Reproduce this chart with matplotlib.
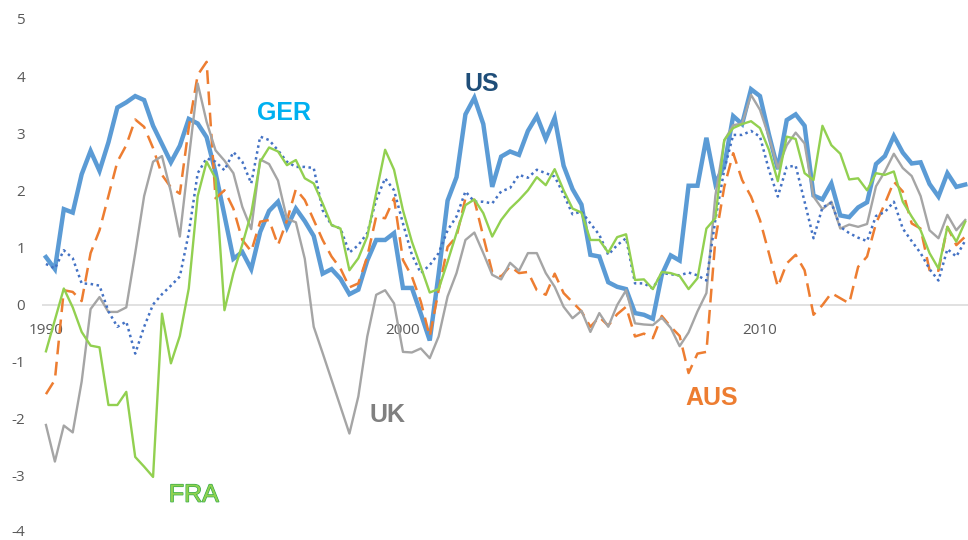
import matplotlib
matplotlib.use("Agg")
import matplotlib.pyplot as plt
import matplotlib.patheffects as pe
import numpy as np

# Quarterly data, 1990Q1 .. 2015Q4
us = [0.83, 0.62, 1.67, 1.61, 2.28, 2.69, 2.34, 2.84, 3.45, 3.54,
      3.65, 3.58, 3.13, 2.81, 2.49, 2.78, 3.25, 3.17, 2.93, 2.31,
      1.56, 0.80, 0.92, 0.62, 1.27, 1.64, 1.80, 1.35, 1.68, 1.46,
      1.20, 0.54, 0.62, 0.45, 0.18, 0.26, 0.77, 1.13, 1.13, 1.25,
      0.29, 0.29, -0.16, -0.63, 0.54, 1.82, 2.23, 3.33, 3.62, 3.16,
      2.06, 2.59, 2.68, 2.62, 3.04, 3.30, 2.90, 3.27, 2.43, 2.02,
      1.75, 0.87, 0.84, 0.39, 0.31, 0.27, -0.15, -0.18, -0.25, 0.52,
      0.86, 0.77, 2.08, 2.08, 2.92, 2.12, 2.43, 3.30, 3.16, 3.77,
      3.65, 2.98, 2.37, 3.23, 3.33, 3.13, 1.91, 1.84, 2.12, 1.56,
      1.53, 1.70, 1.79, 2.46, 2.60, 2.95, 2.66, 2.47, 2.49, 2.11,
      1.89, 2.30, 2.06, 2.10]

ger = [0.71, 0.63, 0.95, 0.81, 0.37, 0.36, 0.33, -0.12, -0.39, -0.30,
       -0.86, -0.39, 0.00, 0.18, 0.33, 0.49, 1.25, 2.30, 2.56, 2.50,
       2.35, 2.67, 2.50, 2.12, 2.94, 2.88, 2.70, 2.50, 2.41, 2.41,
       2.39, 1.65, 1.39, 1.33, 0.91, 1.04, 1.25, 1.83, 2.21, 2.00,
       1.42, 0.87, 0.55, 0.69, 0.90, 1.30, 1.54, 1.98, 1.80, 1.80,
       1.77, 1.98, 2.04, 2.27, 2.22, 2.36, 2.30, 2.24, 1.93, 1.58,
       1.63, 1.42, 1.22, 0.87, 1.04, 1.16, 0.37, 0.37, 0.28, 0.55,
       0.53, 0.51, 0.56, 0.51, 0.42, 1.48, 2.36, 2.97, 2.97, 3.04,
       2.94, 2.36, 1.89, 2.41, 2.43, 1.80, 1.16, 1.70, 1.78, 1.36,
       1.25, 1.17, 1.11, 1.55, 1.62, 1.80, 1.33, 1.11, 0.90, 0.62,
       0.42, 0.97, 0.84, 1.12]

aus = [-1.57, -1.32, 0.25, 0.22, 0.06, 0.90, 1.30, 1.90, 2.50, 2.79,
       3.24, 3.11, 2.74, 2.27, 2.05, 1.94, 3.10, 4.02, 4.25, 1.86,
       2.00, 1.68, 1.13, 0.93, 1.45, 1.48, 1.04, 1.47, 2.02, 1.83,
       1.48, 1.13, 0.84, 0.63, 0.30, 0.37, 0.84, 1.54, 1.51, 1.86,
       0.78, 0.49, 0.05, -0.56, 0.25, 1.01, 1.19, 1.86, 1.83, 1.19,
       0.57, 0.49, 0.67, 0.55, 0.57, 0.25, 0.17, 0.54, 0.20, 0.04,
       -0.12, -0.39, -0.22, -0.37, -0.17, -0.04, -0.56, -0.51, -0.59, -0.20,
       -0.39, -0.55, -1.20, -0.86, -0.83, 1.13, 2.06, 2.65, 2.18, 1.89,
       1.48, 0.90, 0.31, 0.72, 0.87, 0.60, -0.18, -0.01, 0.20, 0.11,
       0.02, 0.66, 0.84, 1.42, 1.77, 2.15, 1.98, 1.42, 1.33, 0.60,
       0.59, 1.36, 1.04, 1.19]

uk = [-2.11, -2.75, -2.12, -2.24, -1.35, -0.08, 0.13, -0.13, -0.13, -0.05,
      0.90, 1.90, 2.50, 2.60, 1.97, 1.19, 2.55, 3.87, 3.20, 2.70,
      2.52, 2.30, 1.71, 1.32, 2.54, 2.46, 2.17, 1.50, 1.44, 0.80,
      -0.39, -0.85, -1.32, -1.79, -2.26, -1.61, -0.56, 0.17, 0.25, 0.02,
      -0.83, -0.84, -0.77, -0.94, -0.56, 0.14, 0.55, 1.13, 1.26, 0.90,
      0.52, 0.44, 0.73, 0.59, 0.90, 0.90, 0.55, 0.31, -0.04, -0.24,
      -0.11, -0.48, -0.15, -0.39, -0.01, 0.25, -0.33, -0.35, -0.36, -0.23,
      -0.41, -0.73, -0.49, -0.12, 0.20, 1.90, 2.87, 3.14, 3.17, 3.67,
      3.41, 2.94, 2.39, 2.79, 3.01, 2.82, 1.89, 1.67, 1.80, 1.33,
      1.40, 1.36, 1.41, 2.07, 2.33, 2.64, 2.39, 2.25, 1.90, 1.30,
      1.16, 1.57, 1.30, 1.48]

fra = [-0.82, -0.27, 0.28, -0.05, -0.48, -0.72, -0.75, -1.76, -1.76, -1.53,
       -2.67, -2.84, -3.02, -0.16, -1.03, -0.55, 0.28, 1.90, 2.50, 2.21,
       -0.10, 0.55, 1.05, 1.60, 2.50, 2.75, 2.68, 2.44, 2.53, 2.21,
       2.12, 1.77, 1.39, 1.33, 0.60, 0.81, 1.19, 1.95, 2.71, 2.36,
       1.65, 1.10, 0.66, 0.21, 0.27, 0.75, 1.25, 1.74, 1.84, 1.60,
       1.19, 1.48, 1.68, 1.83, 2.00, 2.23, 2.09, 2.37, 2.00, 1.68,
       1.61, 1.13, 1.13, 0.91, 1.18, 1.23, 0.43, 0.44, 0.27, 0.57,
       0.55, 0.50, 0.27, 0.46, 1.33, 1.51, 2.88, 3.09, 3.16, 3.21,
       3.09, 2.71, 2.16, 2.94, 2.90, 2.30, 2.18, 3.13, 2.79, 2.64,
       2.19, 2.21, 2.00, 2.30, 2.27, 2.33, 1.80, 1.54, 1.30, 0.90,
       0.63, 1.36, 1.10, 1.45]

year_labels = ["1990", "2000", "2010"]
year_index = [0, 40, 80]
y_ticks = list(range(-4, 6))

fig = plt.figure(figsize=(9.68, 5.4), dpi=100)
ax = fig.add_axes([41.5 / 968, (540 - 532.9) / 540, (968 - 41.5) / 968, (532.9 - 19) / 540])

x = np.arange(len(us))
ax.axhline(0, color="#D9D9D9", lw=1.1, zorder=1)

ax.plot(x, us, color="#5B9BD5", lw=3.2, solid_joinstyle="miter", zorder=3)
ax.plot(x, aus, color="#ED7D31", lw=1.8, dashes=(5.5, 3.0), dash_capstyle="butt", zorder=4)
ax.plot(x, uk, color="#A5A5A5", lw=1.7, zorder=5)
ax.plot(x, ger, color="#4472C4", lw=1.8, dashes=(1.0, 1.4), dash_capstyle="butt", zorder=6)
ax.plot(x, fra, color="#92D050", lw=1.7, zorder=7)

ax.set_xlim(-0.5, -0.5 + (968 - 41.5) / 8.925)
ax.set_ylim(-4, 5)
ax.set_xticks([])
ax.set_yticks([])
for s in ax.spines.values():
    s.set_visible(False)

# y-axis labels (the lowest one nudged up a little so it stays inside the figure)
for v in y_ticks:
    dy = 2.0 if v == y_ticks[0] else 0.0
    ax.annotate(str(v), xy=(0, v), xycoords=("axes fraction", "data"),
                xytext=(-11.9, dy), textcoords="offset points",
                ha="right", va="center_baseline", fontsize=11,
                color="#595959", family="Open Sans", annotation_clip=False)

for lab, idx in zip(year_labels, year_index):
    ax.text(idx, -0.517, lab, ha="center", va="baseline", fontsize=11,
            color="#595959", family="Open Sans")

lab_kw = dict(ha="center", va="baseline", fontsize=18, family="Liberation Sans", zorder=10)
ax.text(48.8, 3.744, "US", color="#1F4E79", fontweight="bold", **lab_kw)
ax.text(26.67, 3.231, "GER", color="#00B0F0", fontweight="bold", **lab_kw)
ax.text(38.26, -2.053, "UK", color="#808080", fontweight="bold", **lab_kw)
ax.text(74.59, -1.76, "AUS", color="#ED7D31", fontweight="bold", **lab_kw)
t = ax.text(16.56, -3.454, "FRA", color="#8FD14F", **lab_kw)
t.set_path_effects([pe.withStroke(linewidth=0.9, foreground="#2EA84A")])

fig.savefig("out.png", dpi=100)
